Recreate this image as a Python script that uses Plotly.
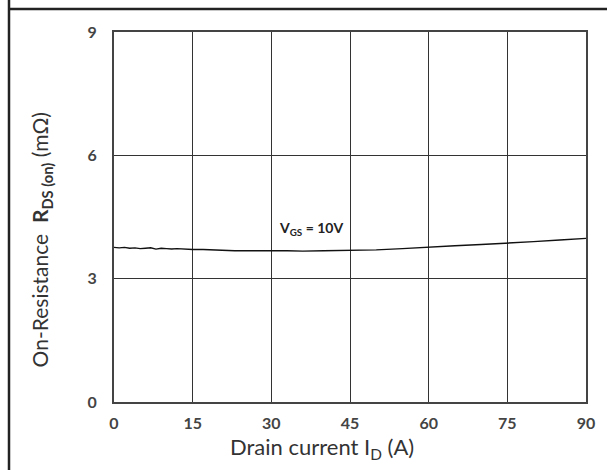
import plotly.graph_objects as go

drain_current = [0, 1, 2, 3, 4, 5, 6, 7, 8, 9, 10, 11, 12, 13, 14, 15, 17, 19, 21, 23, 25, 28, 30,
                 33, 36, 40, 45, 50, 55, 60, 65, 70, 75, 80, 85, 90]
r_ds_on = [3.76, 3.75, 3.76, 3.74, 3.75, 3.73, 3.74, 3.75, 3.72, 3.74, 3.73, 3.72, 3.73, 3.72, 3.71,
           3.71, 3.71, 3.70, 3.68, 3.68, 3.68, 3.67, 3.68, 3.68, 3.67, 3.68, 3.69, 3.70, 3.73, 3.77,
           3.80, 3.83, 3.86, 3.90, 3.94, 3.98]
x_ticks = [0, 15, 30, 45, 60, 75, 90]
y_ticks = [0, 3, 6, 9]
label_text = "V<sub>GS</sub> = 10V"
label_pos = (37.5, 4.22)
x_title = "Drain current I<sub>D</sub> (A)"
y_title = "On-Resistance  <b>R</b><sub><b>DS (on)</b></sub> (mΩ)"

FONT = "Lato"

fig = go.Figure()
fig.add_trace(go.Scatter(x=drain_current, y=r_ds_on, mode="lines",
                         line=dict(color="#111111", width=1.4), showlegend=False))

fig.add_annotation(x=label_pos[0], y=label_pos[1], text="<b>" + label_text + "</b>",
                   showarrow=False, font=dict(family=FONT, size=14, color="#222222"))

ml, mr, mt, mb = 114, 12, 32, 68
W, H = 607, 470
pw, ph = W - ml - mr, H - mt - mb

# axis titles as annotations (offset like the reference)
fig.add_annotation(xref="paper", yref="paper", x=(326 - ml) / pw, y=(H - mb - 448) / ph,
                   text=x_title, showarrow=False, xanchor="center", yanchor="middle",
                   font=dict(size=22, family=FONT, color="#333333"))
fig.add_annotation(xref="paper", yref="paper", x=(40 - ml) / pw, y=(H - mb - 240) / ph,
                   text=y_title, showarrow=False, textangle=-90, xanchor="center", yanchor="middle",
                   font=dict(size=21, family=FONT, color="#333333"))

# outer frame lines (page border)
fx = (7 - ml) / pw
fy = (H - mb - 9) / ph
fig.add_shape(type="line", xref="paper", yref="paper", x0=fx, x1=(W - ml) / pw + 0.05, y0=fy, y1=fy,
              line=dict(color="#222222", width=2.5))
fig.add_shape(type="line", xref="paper", yref="paper", x0=fx, x1=fx, y0=-mb / ph - 0.05, y1=(H - mb) / ph + 0.05,
              line=dict(color="#222222", width=2.5))

tickfont = dict(size=16, family=FONT, color="#444444", weight="bold")
fig.update_layout(
    width=W, height=H,
    margin=dict(l=ml, r=mr, t=mt, b=mb),
    paper_bgcolor="white", plot_bgcolor="white",
    font=dict(family=FONT, color="#333333"),
    xaxis=dict(range=[0, 90], tickvals=x_ticks, ticks="", showgrid=True, gridcolor="#333333",
               gridwidth=1.3, showline=True, linecolor="#444444", linewidth=2.2, mirror=True,
               zeroline=False, tickfont=tickfont, ticklabelstandoff=6),
    yaxis=dict(range=[0, 9], tickvals=y_ticks, ticks="", showgrid=True, gridcolor="#333333",
               gridwidth=1.3, showline=True, linecolor="#444444", linewidth=2.2, mirror=True,
               zeroline=False, tickfont=tickfont, ticklabelstandoff=12),
)

fig.write_html("out.html", config={"displayModeBar": False},
               post_script="document.body.style.margin='0px';")
